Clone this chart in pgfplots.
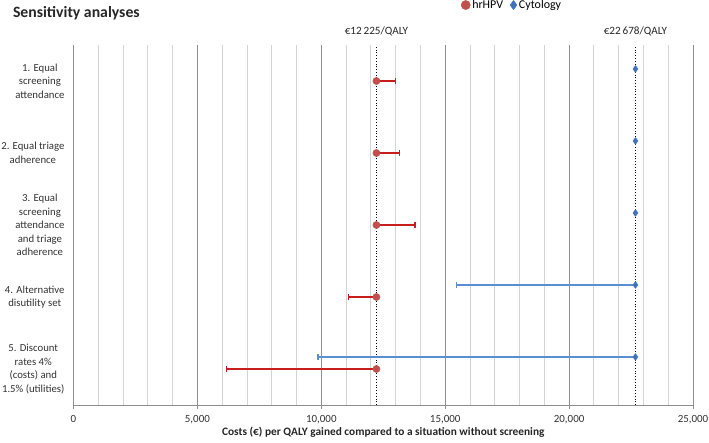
\documentclass[border=0pt]{standalone}
\usepackage{fontspec}
\setmainfont{Carlito}
\usepackage{pgfplots}
\usepackage{pgfplotstable}
\pgfplotsset{compat=1.18}
\definecolor{hpvmark}{HTML}{C0504D}
\definecolor{hpvbar}{HTML}{C81E1E}
\definecolor{cytmark}{HTML}{3F72BA}
\definecolor{cytbar}{HTML}{5A8ED0}
\definecolor{gridminor}{HTML}{D4D4D4}
\definecolor{gridmajor}{HTML}{8E8E8E}

\pgfplotstableread{
y x
5 12225
4 12225
3 12225
2 12225
1 12225
}\hpvpts
\pgfplotstableread{
y x e
5 12225 775
4 12225 925
3 12225 1565
}\hpvplus
\pgfplotstableread{
y x e
2 12225 1125
1 12225 6055
}\hpvminus
\pgfplotstableread{
y x
5.167 22678
4.167 22678
3.167 22678
2.167 22678
1.167 22678
}\cytpts
\pgfplotstableread{
y x e
2.167 22678 7228
1.167 22678 12818
}\cytminus

\begin{document}
\begin{tikzpicture}
\path[use as bounding box] (-73.5bp,-38bp) rectangle (635.5bp,405bp);
\begin{axis}[
  at={(0,0)}, anchor=south west,
  scale only axis, width=619.5bp, height=360bp,
  xmin=0, xmax=25000, ymin=0.5, ymax=5.5,
  axis x line=bottom, axis y line=left,
  axis line style={-, draw=gridmajor},
  xtick={0,5000,...,25000},
  minor xtick={1000,2000,3000,4000,6000,7000,8000,9000,11000,12000,13000,14000,16000,17000,18000,19000,21000,22000,23000,24000},
  xmajorgrids, xminorgrids,
  major grid style={draw=gridmajor, line width=0.8bp},
  minor grid style={draw=gridminor, line width=0.8bp},
  tick align=outside,
  major tick length=4bp, minor tick length=0bp,
  xtick style={draw=gridmajor},
  scaled ticks=false,
  /pgf/number format/.cd, 1000 sep={,}, assume math mode=true, /pgfplots/.cd,
  ticklabel style={font=\fontsize{11}{13.5}\selectfont, text=black!80},
  xticklabel style={yshift=-3bp},
  ytick={1,2,3,4,5},
  ytick style={draw=none},
  yticklabels={{5. Discount\\rates 4\%\\(costs) and\\1.5\% (utilities)},
               {4. Alternative\\disutility set},
               {3. Equal\\screening\\attendance\\and triage\\adherence},
               {2. Equal triage\\adherence},
               {1. Equal\\screening\\attendance}},
  yticklabel style={align=center, xshift=-1.5bp, font=\fontsize{10.8}{13.5}\selectfont},
  xlabel={\bfseries Costs (€) per QALY gained compared to a situation without screening},
  xlabel style={font=\fontsize{11.4}{13}\selectfont, text=black!85, yshift=4bp},
  legend style={at={(0.708,1.111)}, anchor=center, draw=none, fill=none,
    font=\fontsize{12}{14}\selectfont, legend columns=2,
    /tikz/every even column/.append style={column sep=5bp}},
  legend image code/.code={\draw[#1, mark size=4.6bp] plot coordinates {(0.22cm,0cm)};},
  legend cell align=left,
  clip=false,
]
% threshold lines
\addplot[black, dotted, line width=0.8bp, forget plot] coordinates {(12225,0.5) (12225,5.5)};
\addplot[black, dotted, line width=0.8bp, forget plot] coordinates {(22678,0.5) (22678,5.5)};
\node[anchor=south, font=\fontsize{11.2}{13}\selectfont, text=black!85] at (axis cs:12225,5.5) [yshift=6bp] {€12\,225/QALY};
\node[anchor=south, font=\fontsize{11.2}{13}\selectfont, text=black!85] at (axis cs:22678,5.5) [yshift=6bp] {€22\,678/QALY};
% error bars
\addplot[draw=none, mark=none, forget plot,
  error bars/.cd, x dir=plus, x explicit,
  error bar style={draw=hpvbar, line width=2bp},
  error mark options={draw=hpvbar, line width=1.6bp, mark size=3bp, rotate=90}]
  table[x=x, y=y, x error=e]{\hpvplus};
\addplot[draw=none, mark=none, forget plot,
  error bars/.cd, x dir=minus, x explicit,
  error bar style={draw=hpvbar, line width=2bp},
  error mark options={draw=hpvbar, line width=1.6bp, mark size=3bp, rotate=90}]
  table[x=x, y=y, x error=e]{\hpvminus};
\addplot[draw=none, mark=none, forget plot,
  error bars/.cd, x dir=minus, x explicit,
  error bar style={draw=cytbar, line width=1.6bp},
  error mark options={draw=cytbar, line width=1.4bp, mark size=3bp, rotate=90}]
  table[x=x, y=y, x error=e]{\cytminus};
% markers
\addplot[only marks, mark=*, mark size=3.6bp, mark options={draw=hpvmark, fill=hpvmark}]
  table[x=x, y=y]{\hpvpts};
\addlegendentry{hrHPV}
\addplot[only marks, mark=diamond*, mark size=3.4bp, mark options={draw=cytmark, fill=cytmark}]
  table[x=x, y=y]{\cytpts};
\addlegendentry{Cytology}
\end{axis}
\node[anchor=west, font=\bfseries\fontsize{15.8}{18}\selectfont, text=black!85] at (-64bp,392bp) {Sensitivity analyses};
\end{tikzpicture}
\end{document}
